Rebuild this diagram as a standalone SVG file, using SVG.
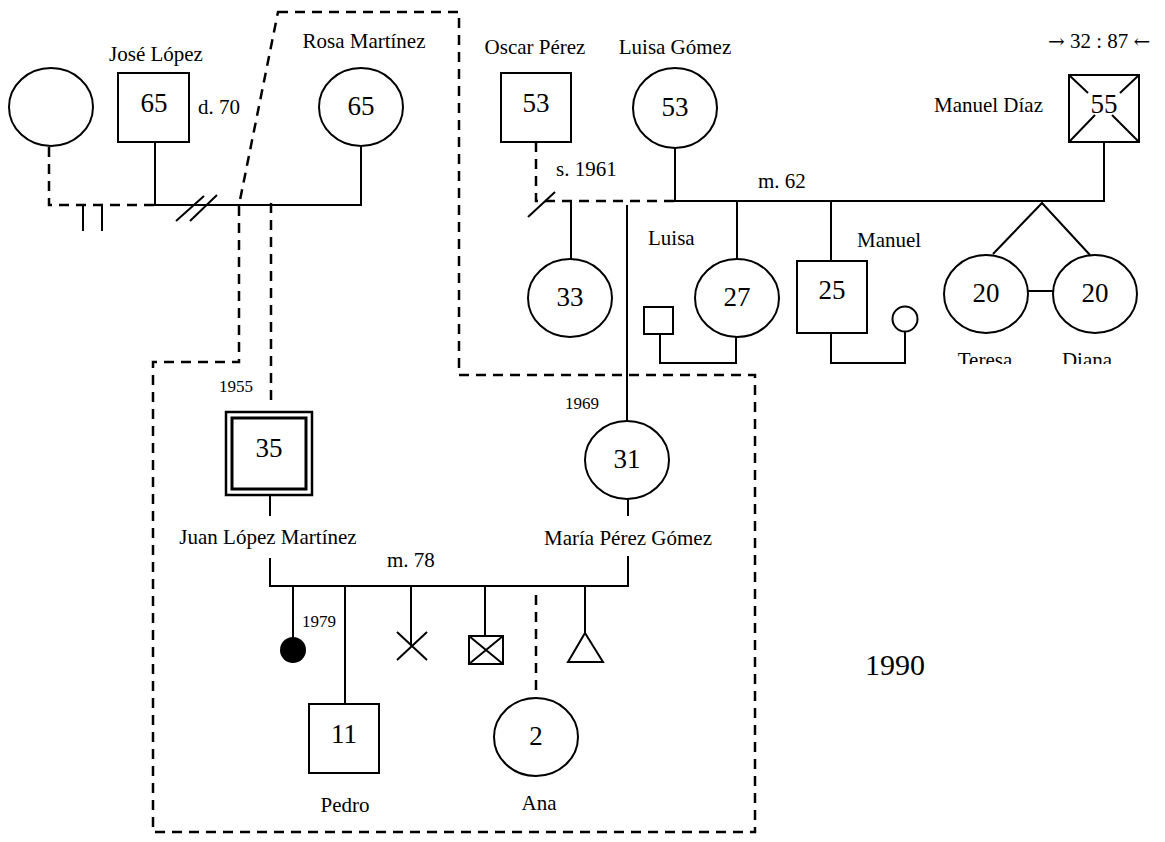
<svg xmlns="http://www.w3.org/2000/svg" width="1165" height="842" viewBox="0 0 1165 842">
<style>
text{font-family:"Liberation Serif","Times New Roman",serif;fill:#000}
.lbl{font-size:21px}
.sm{font-size:17px}
.num{font-size:27px;text-anchor:middle}
.c{text-anchor:middle}
.ar{font-family:"DejaVu Serif",serif;font-size:20px}
.sh{fill:#fff;stroke:#000;stroke-width:2}
.ln{fill:none;stroke:#000;stroke-width:2}
.ds{fill:none;stroke:#000;stroke-width:2.5;stroke-dasharray:10,7}
</style>
<defs>
<clipPath id="cut"><rect x="900" y="330" width="265" height="34"/></clipPath>
</defs>
<rect width="1165" height="842" fill="#fff"/>
<g id="connectors">
<path class="ds" d="M278,12 L459,12 L459,375 L755,375 L755,832 L153,832 L153,362 L239,362 L239,205 Z"/>
<path class="ds" d="M49,147 L49,205 L155,205"/>
<path class="ln" d="M83,205 V231 M102,205 V231"/>
<path class="ln" d="M155,142 V205 H361 V147"/>
<path class="ln" d="M176,221 L204,196 M190,221 L217,195"/>
<path class="ds" d="M271,203 V407"/>
<path class="ln" d="M270,495 V516 M270,558 V586 H628 V556 M628,499 V516"/>
<path class="ln" d="M293,586 V637 M345,586 V704 M411,586 V646 M485,586 V636 M585,586 V633"/>
<path class="ds" d="M536,595 V698"/>
<path class="ds" d="M536,142 V201 H675"/>
<path class="ln" d="M528,217 L555,192"/>
<path class="ln" d="M675,148 V201 H1104 V142"/>
<path class="ln" d="M571,201 V259 M737,201 V259 M831,201 V261"/>
<path class="ln" d="M627,205 V421"/>
<path class="ln" d="M993,254 L1042,203 L1090,255 M1028,291 H1053"/>
<path class="ln" d="M660,334 V363 H736 V337"/>
<path class="ln" d="M831,333 V363 H905 V332"/>
</g>
<g id="n-left-wife"><ellipse class="sh" cx="51" cy="107" rx="42" ry="39"/></g>
<g id="n-jose"><rect class="sh" x="118" y="73" width="71" height="69"/><text class="num" x="154" y="112">65</text><text class="lbl c" x="156" y="61">José López</text><text class="lbl" x="198" y="114">d. 70</text></g>
<g id="n-rosa"><ellipse class="sh" cx="361" cy="107" rx="42" ry="39"/><text class="num" x="361" y="115">65</text><text class="lbl c" x="364" y="48">Rosa Martínez</text></g>
<g id="n-oscar"><rect class="sh" x="501" y="73" width="70" height="69"/><text class="num" x="536" y="112">53</text><text class="lbl c" x="535" y="54">Oscar Pérez</text></g>
<g id="n-luisa-gomez"><ellipse class="sh" cx="675" cy="108" rx="42" ry="40"/><text class="num" x="675" y="116">53</text><text class="lbl c" x="675" y="54">Luisa Gómez</text></g>
<g id="n-manuel-diaz"><rect class="sh" x="1069" y="75" width="70" height="67"/><path class="ln" d="M1069,75 L1088,93 M1139,75 L1120,93 M1069,142 L1095,115 M1139,142 L1112,115"/><text class="num" x="1104" y="113">55</text><text class="lbl" x="1043" y="112" text-anchor="end">Manuel Díaz</text><text class="lbl" x="1048" y="48"><tspan class="ar">→</tspan> 32 : 87 <tspan class="ar">←</tspan></text></g>
<g id="e-labels"><text class="lbl" x="556" y="176">s. 1961</text><text class="lbl" x="758" y="188">m. 62</text></g>
<g id="n-33"><ellipse class="sh" cx="570" cy="298" rx="42" ry="39"/><text class="num" x="570" y="306">33</text></g>
<g id="n-luisa"><ellipse class="sh" cx="737" cy="298" rx="42" ry="39"/><text class="num" x="737" y="306">27</text><text class="lbl" x="648" y="245">Luisa</text></g>
<g id="n-luisa-spouse"><rect class="sh" x="644" y="307" width="29" height="27"/></g>
<g id="n-manuel"><rect class="sh" x="797" y="261" width="70" height="72"/><text class="num" x="832" y="299">25</text><text class="lbl" x="857" y="247">Manuel</text></g>
<g id="n-manuel-spouse"><circle class="sh" cx="905" cy="319" r="12.5"/></g>
<g id="n-teresa"><ellipse class="sh" cx="986" cy="294" rx="42" ry="39"/><text class="num" x="986" y="302">20</text></g>
<g id="n-diana"><ellipse class="sh" cx="1095" cy="294" rx="42" ry="39"/><text class="num" x="1095" y="302">20</text></g>
<g id="twin-labels" clip-path="url(#cut)"><text class="lbl c" x="985" y="367">Teresa</text><text class="lbl c" x="1087" y="367">Diana</text></g>
<g id="n-juan"><rect x="226" y="412" width="86" height="83" fill="#fff" stroke="#000" stroke-width="2.5"/><rect x="232" y="418" width="74" height="71" fill="none" stroke="#000" stroke-width="3"/><text class="num" x="269" y="457">35</text><text class="sm" x="219" y="392">1955</text><text class="lbl c" x="268" y="544">Juan López Martínez</text></g>
<g id="n-maria"><ellipse class="sh" cx="627" cy="460" rx="42" ry="39"/><text class="num" x="627" y="468">31</text><text class="sm" x="565" y="409">1969</text><text class="lbl c" x="628" y="545">María Pérez Gómez</text></g>
<g id="e-m78"><text class="lbl" x="387" y="567">m. 78</text></g>
<g id="n-stillbirth"><circle cx="293" cy="650" r="13" fill="#000"/><text class="sm" x="302" y="627">1979</text></g>
<g id="n-pedro"><rect class="sh" x="309" y="704" width="70" height="69"/><text class="num" x="344" y="743">11</text><text class="lbl c" x="345" y="812">Pedro</text></g>
<g id="n-miscarriage"><path class="ln" d="M397,632 L427,660 M427,632 L397,660"/></g>
<g id="n-deceased-boy"><rect class="sh" x="469" y="636" width="34" height="28"/><path class="ln" d="M469,636 L503,664 M503,636 L469,664"/></g>
<g id="n-ana"><ellipse class="sh" cx="536" cy="737" rx="42" ry="39"/><text class="num" x="536" y="745">2</text><text class="lbl c" x="539" y="810">Ana</text></g>
<g id="n-abortion"><path class="sh" d="M585,633 L603,662 L568,662 Z"/></g>
<g id="year"><text x="865" y="675" style="font-size:30px">1990</text></g>
</svg>
